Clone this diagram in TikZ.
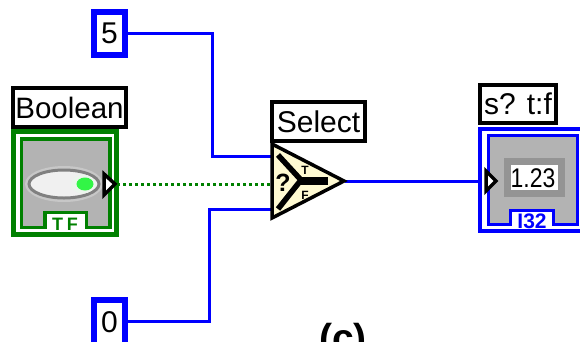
\documentclass[tikz,border=0pt]{standalone}
\usepackage{fontspec}
\setmainfont{Liberation Sans}
\usetikzlibrary{calc,shapes.geometric}
\definecolor{wblue}{RGB}{0,0,255}
\definecolor{bgreen}{RGB}{0,128,0}
\definecolor{dgray}{RGB}{179,179,179}
\definecolor{pyellow}{RGB}{255,250,210}
\definecolor{ledg}{RGB}{50,245,70}
\tikzset{
 x=1pt,y=-1pt,
 every node/.style={outer sep=0pt},
 wire/.style={draw=wblue,line width=3pt,line join=miter},
 boolwire/.style={draw=bgreen,line width=3pt,dash pattern=on 3pt off 3pt},
 lab/.style={draw=black,line width=4pt,fill=white,inner sep=0pt,anchor=north west,align=center},
 pix/.style={inner sep=0pt,font=\fontsize{30}{30}\selectfont},
 term/.style={draw=black,fill=white,line width=3.5pt,line join=miter},
 frame/.style={fill=white,anchor=north west,inner sep=0pt},
}
\begin{document}
\begin{tikzpicture}
\useasboundingbox (0,0) rectangle (580,341);
\clip (0,0) rectangle (580,341);
\fill[white] (0,0) rectangle (580,341);
% anchors
\coordinate (fiveout) at (128,33);
\coordinate (zeroout) at (128,321);
\coordinate (seltop) at (272,156);
\coordinate (selbot) at (272,209);
\coordinate (selin) at (272,184);
\coordinate (selout) at (345,181);
\coordinate (indin) at (480,181);
\coordinate (boolout) at (117,184);
% wires
\draw[wire] (fiveout) -| (212,156) -- (seltop);
\draw[wire] (zeroout) -| (209,209) -- (selbot);
\draw[wire] (selout) -- (indin);
\draw[boolwire] (boolout) -- (selin);
% constants
\node[draw=wblue,line width=6pt,fill=white,minimum width=31pt,minimum height=43pt,inner sep=0pt,pix] (five) at (109.5,33.5) {5};
\node[draw=wblue,line width=6pt,frame,minimum width=31pt,minimum height=60pt] (zero) at (94,300) {};
\node[pix] (zerotxt) at (109.5,322) {0};
% Boolean control
\node[lab,minimum width=113pt,minimum height=39pt,pix,font=\fontsize{29.5}{30}\selectfont] (boollab) at (13,88) {Boolean};
\node[draw=bgreen,line width=5pt,frame,minimum width=103pt,minimum height=103pt] (boolframe) at (13.5,131.5) {};
\node[draw=bgreen,line width=3.5pt,frame,fill=dgray,minimum width=88.5pt,minimum height=88.5pt] (boolinner) at (21.7,139) {};
\node[draw=bgreen,line width=3.5pt,frame,minimum width=41.5pt,minimum height=15pt] (tftab) at (45,212.7) {};
\fill[white] (46.8,214.5) rectangle (84.7,232);
\node[font=\bfseries\fontsize{18}{18}\selectfont,text=bgreen,inner sep=0pt] (tf) at (65,224) {T\hspace{4pt}F};
\node[ellipse,fill=black!22,minimum width=78pt,minimum height=36pt,inner sep=0pt] (ledhalo) at (64,184) {};
\node[ellipse,draw=black!50,line width=3pt,fill=gray!12,minimum width=70pt,minimum height=28pt,inner sep=0pt] (led) at (64,184) {};
\node[ellipse,fill=ledg!40!gray!12,minimum width=24pt,minimum height=19pt,inner sep=0pt] (ledglow) at (83,184) {};
\node[ellipse,fill=ledg,minimum width=17pt,minimum height=13pt,inner sep=0pt] (ledon) at (85,184) {};
\draw[term] (104,174) -- (115,184) -- (104,195) -- cycle;
% Select
\node[lab,minimum width=93pt,minimum height=39pt,pix] (sellab) at (272,102) {Select};
\draw[black,line width=3.5pt,fill=pyellow,line join=miter] (272,144) -- (272,218) -- (344,181) -- cycle;
\draw[black,line width=5.5pt] (278,155) -- (301,180) -- (278,209);
\draw[black,line width=8pt] (300,181) -- (328,181);
\node[font=\fontsize{25}{25}\selectfont\bfseries,inner sep=0pt] (selq) at (283,183) {?};
\node[font=\fontsize{12}{12}\selectfont\bfseries,inner sep=0pt] (selt) at (305,170) {T};
\node[font=\fontsize{12}{12}\selectfont\bfseries,inner sep=0pt] (self) at (305,195) {F};
% Indicator
\node[lab,minimum width=76pt,minimum height=38pt,pix] (indlab) at (480,85) {s? t:f};
\node[draw=wblue,line width=4pt,frame,minimum width=120pt,minimum height=102pt] (indframe) at (480,129) {};
\node[draw=wblue,line width=3pt,frame,fill=dgray,minimum width=88.5pt,minimum height=89pt] (indinner) at (488.5,135.5) {};
\node[draw=wblue,line width=3pt,frame,minimum width=43pt,minimum height=14pt] (i32tab) at (510.5,210.5) {};
\fill[white] (512,212) rectangle (552,228.9);
\node[font=\bfseries\fontsize{21}{21}\selectfont,text=wblue,inner sep=0pt] (i32) at (532,221) {I32};
\node[draw=black!42,line width=7pt,fill=white,minimum width=54pt,minimum height=32pt,inner sep=0pt] (num) at (534.5,177.5) {};
\node[inner sep=0pt,font=\fontsize{27}{27}\selectfont,xscale=.85] (numtxt) at (533,178) {1.23};
\draw[term] (486,171) -- (496,181) -- (486,191) -- cycle;
% caption
\node[font=\bfseries\fontsize{39}{39}\selectfont,anchor=base,inner sep=0pt] (cap) at (343,351) {(c)};
\end{tikzpicture}
\end{document}
